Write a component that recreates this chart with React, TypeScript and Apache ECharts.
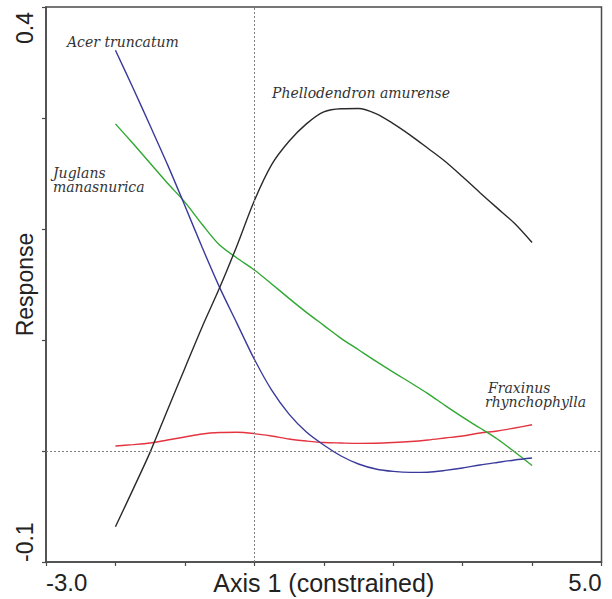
import React, { useEffect, useRef } from "react";
import * as echarts from "echarts";

// Axis 1 (constrained) sample positions (read every 0.25 from the picture)
const axisPositions = [
  -2.0, -1.75, -1.5, -1.25, -1.0, -0.75, -0.5, -0.25, 0, 0.25, 0.5, 0.75, 1.0,
  1.25, 1.5, 1.75, 2.0, 2.25, 2.5, 2.75, 3.0, 3.25, 3.5, 3.75, 4.0,
];

// Response curves
const acerTruncatum = [
  0.361, 0.3275, 0.293, 0.258, 0.221, 0.1833, 0.1474, 0.115, 0.0827, 0.0548, 0.0332, 0.0171, 0.0054,
  -0.0045, -0.0117, -0.0162, -0.0184, -0.0193, -0.0191, -0.0175, -0.0153, -0.0126, -0.0103, -0.0081, -0.0063,
];
const juglansManasnurica = [
  0.2947, 0.2772, 0.2592, 0.2412, 0.2242, 0.204, 0.1855, 0.1739, 0.1631, 0.1505, 0.1375, 0.1249, 0.1132,
  0.1015, 0.0912, 0.0809, 0.071, 0.0615, 0.0517, 0.0409, 0.0305, 0.0207, 0.0108, -0.0009, -0.013,
];
const phellodendronAmurense = [
  -0.0683, -0.035, -0.001, 0.037, 0.0746, 0.112, 0.147, 0.185, 0.2255, 0.258, 0.279, 0.2947, 0.3055,
  0.3084, 0.3086, 0.304, 0.295, 0.2844, 0.2727, 0.2608, 0.247, 0.2327, 0.2188, 0.2049, 0.1878,
];
const fraxinusRhynchophylla = [
  0.0045, 0.0057, 0.0072, 0.0099, 0.0126, 0.0153, 0.0166, 0.0169, 0.0157, 0.0135, 0.0108, 0.009, 0.0076,
  0.0072, 0.0069, 0.007, 0.0076, 0.0085, 0.0099, 0.0117, 0.0135, 0.0162, 0.018, 0.0207, 0.0236,
];

// Tick labels
const xTickLabels: Record<string, string> = { "-3": "-3.0", "5": "5.0" };
const yTickLabels: Record<string, string> = { "-0.1": "-0.1", "0.4": "0.4" };

const xAxisName = "Axis 1 (constrained)";
const yAxisName = "Response";

const pairs = (ys: number[]) => axisPositions.map((x, i) => [x, ys[i]]);

const frameColor = "#4a4a4a";
const sansFont = "Liberation Sans";
const labelFont = "DejaVu Serif";

export default function App() {
  const ref = useRef<HTMLDivElement>(null);
  useEffect(() => {
    if (!ref.current) return;
    const chart = echarts.init(ref.current, undefined, { renderer: "svg" });
    const lineSeries = (name: string, ys: number[], color: string, extra: any = {}) => ({
      name,
      type: "line",
      data: pairs(ys),
      smooth: 0.3,
      symbol: "none",
      lineStyle: { color, width: 1.4 },
      silent: true,
      z: 3,
      ...extra,
    });
    const speciesText = (text: string, x: number, y: number) => ({
      type: "text",
      x,
      y,
      silent: true,
      style: {
        text,
        fill: "#333333",
        fontFamily: labelFont,
        fontStyle: "italic",
        fontSize: 14,
        verticalAlign: "middle",
        align: "left",
      },
    });
    const tick = { show: true, inside: false, length: 4, lineStyle: { color: frameColor, width: 1.2 } };
    chart.setOption({
      animation: false,
      grid: {
        left: 46,
        right: 10.5,
        top: 7,
        bottom: 37,
        show: true,
        borderColor: frameColor,
        borderWidth: 1.5,
        backgroundColor: "transparent",
        containLabel: false,
        outerBoundsMode: "none",
      },
      xAxis: {
        type: "value",
        min: -3,
        max: 5,
        interval: 1,
        axisLine: { onZero: false, lineStyle: { color: frameColor, width: 1.5 } },
        axisTick: tick,
        splitLine: { show: false },
        axisLabel: {
          formatter: (v: number) => xTickLabels[String(v)] ?? "",
          fontSize: 24,
          fontFamily: sansFont,
          color: "#222",
          margin: 8,
          alignMinLabel: "left",
          alignMaxLabel: "right",
          showMinLabel: true,
          showMaxLabel: true,
        },
        name: xAxisName,
        nameLocation: "middle",
        nameGap: 8,
        nameMoveOverlap: false,
        nameTextStyle: { fontSize: 25, fontFamily: sansFont, color: "#222", verticalAlign: "top" },
      },
      yAxis: {
        type: "value",
        min: -0.1,
        max: 0.4,
        interval: 0.1,
        axisLine: { show: true, onZero: false, lineStyle: { color: frameColor, width: 1.5 } },
        axisTick: tick,
        splitLine: { show: false },
        axisLabel: {
          formatter: (v: number) => yTickLabels[String(Math.round(v * 10) / 10)] ?? "",
          rotate: 90,
          fontSize: 23,
          fontFamily: sansFont,
          color: "#222",
          margin: 10,
          padding: [0, 5, 0, 0],
          alignMinLabel: "left",
          alignMaxLabel: "right",
          showMinLabel: true,
          showMaxLabel: true,
        },
        name: yAxisName,
        nameLocation: "middle",
        nameRotate: 90,
        nameGap: 10,
        nameMoveOverlap: false,
        nameTextStyle: { fontSize: 23, fontFamily: sansFont, color: "#222" },
      },
      series: [
        lineSeries("Fraxinus rhynchophylla", fraxinusRhynchophylla, "#e4343f", {
          markLine: {
            silent: true,
            symbol: "none",
            label: { show: false },
            lineStyle: { type: [2, 2], color: "#808080", width: 1 },
            data: [{ xAxis: 0 }, { yAxis: 0 }],
          },
        }),
        lineSeries("Juglans manasnurica", juglansManasnurica, "#30a832"),
        lineSeries("Acer truncatum", acerTruncatum, "#3a3a9c"),
        lineSeries("Phellodendron amurense", phellodendronAmurense, "#2a2a2a"),
      ],
      graphic: [
        speciesText("Acer truncatum", 67, 42),
        speciesText("Phellodendron amurense", 272, 93),
        speciesText("Juglans", 53, 172.5),
        speciesText("manasnurica", 53, 187),
        speciesText("Fraxinus", 488, 387.5),
        speciesText("rhynchophylla", 485, 402),
      ],
    });
    return () => chart.dispose();
  }, []);
  return <div ref={ref} style={{ position: "absolute", left: 0, top: 0, width: 612, height: 599 }} />;
}
